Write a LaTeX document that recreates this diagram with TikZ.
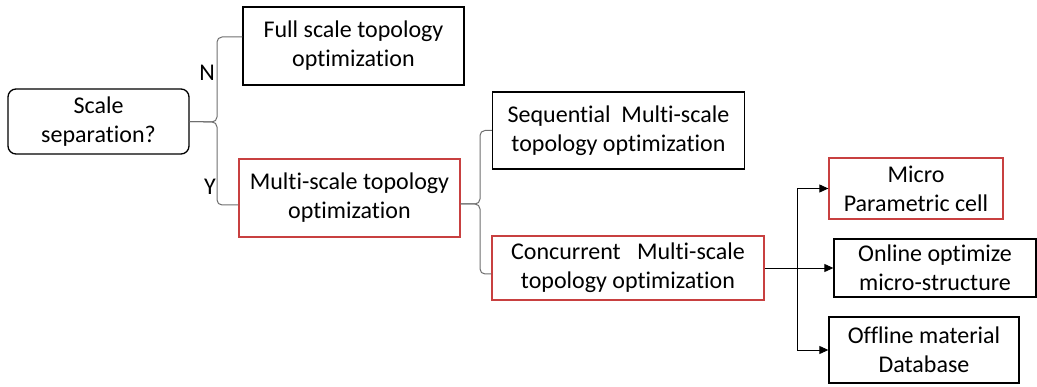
\documentclass[tikz,border=0pt]{standalone}
\usepackage{fontspec}
\setmainfont[Ligatures={NoCommon}]{Carlito}
\usetikzlibrary{arrows.meta,calc}
\definecolor{boxred}{RGB}{200,64,64}
\definecolor{bracegray}{RGB}{110,110,110}
\begin{document}
\begin{tikzpicture}[x=1pt,y=-1pt,
  box/.style={draw=black,line width=1.3pt,align=center,inner sep=0pt,
    font=\fontsize{24}{29}\selectfont},
  redbox/.style={box,draw=boxred},
  brace/.style={draw=bracegray,line width=1pt,rounded corners=5pt},
  arr/.style={draw=black,line width=0.9pt,-{Triangle[length=9pt,width=8pt]}},
  lbl/.style={font=\fontsize{24}{29}\selectfont,inner sep=0pt}]
\useasboundingbox (0,0) rectangle (1037,387);
\node[box,rounded corners=8pt,minimum width=181pt,minimum height=65pt] (ss) at (98.5,121.5) {Scale\\separation?};
\node[box,minimum width=221pt,minimum height=78pt] (full) at (353.5,46) {Full scale topology\\optimization};
\node[redbox,minimum width=221pt,minimum height=78pt] (multi) at (349.5,198) {Multi-scale topology\\optimization};
\node[box,minimum width=252pt,minimum height=77pt] (seq) at (618.5,130.5) {Sequential\ \ Multi-scale\\topology optimization};
\node[redbox,minimum width=272pt,minimum height=64pt] (conc) at (628,268) {Concurrent\ \ \ Multi-scale\\topology optimization};
\node[redbox,minimum width=174pt,minimum height=61pt] (micro) at (916,188.5) {Micro\\Parametric cell};
\node[box,minimum width=202pt,minimum height=58pt] (online) at (935,268) {Online optimize\\micro-structure};
\node[box,minimum width=190pt,minimum height=66pt] (offline) at (924,350) {Offline material\\Database};
\node[lbl] (n) at (207,73) {N};
\node[lbl] (y) at (210,187) {Y};
% brace 1
\coordinate (b1) at (217,122);
\draw[brace] (ss.east) -- (b1) |- ([yshift=9pt]full.west);
\draw[brace] (ss.east) -- (b1) |- ([yshift=-7pt]multi.west);
% brace 2
\coordinate (b2) at (480,204);
\draw[brace] ([yshift=-6pt]multi.east) -- (b2) |- (seq.west);
\draw[brace] ([yshift=-6pt]multi.east) -- (b2) |- ([yshift=-6pt]conc.west);
% arrows
\coordinate (j) at (797,268);
\draw[arr] (conc.east) -- (online.west);
\draw[arr] (j) |- (micro.west);
\draw[arr] (j) |- (offline.west);
\end{tikzpicture}
\end{document}
